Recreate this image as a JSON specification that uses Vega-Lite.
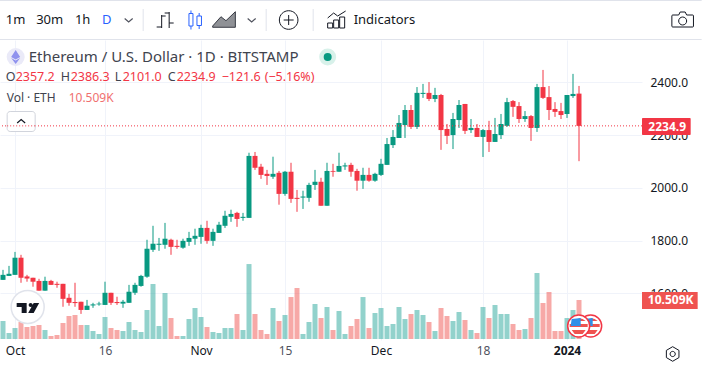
{"$schema":"https://vega.github.io/schema/vega-lite/v6.json","autosize":{"type":"none"},"width":642,"height":300,"padding":{"left":0,"top":40,"right":60,"bottom":25},"background":"white","config":{"view":{"stroke":null},"text":{"font":"Noto Sans"}},
"data":{"values":[{}]},
"datasets":{"eth":[
{"d":"2023-09-29","o":1651,"h":1689,"l":1651,"c":1670,"v":4.85},{"d":"2023-09-30","o":1666,"h":1704,"l":1666,"c":1674,"v":1.62},
{"d":"2023-10-01","o":1670,"h":1757,"l":1670,"c":1735,"v":2.96},{"d":"2023-10-02","o":1735,"h":1746,"l":1640,"c":1659,"v":4.58},{"d":"2023-10-03","o":1664,"h":1670,"l":1644,"c":1656,"v":3.23},{"d":"2023-10-04","o":1659,"h":1659,"l":1625,"c":1644,"v":3.5},{"d":"2023-10-05","o":1647,"h":1655,"l":1610,"c":1610,"v":3.77},{"d":"2023-10-06","o":1610,"h":1663,"l":1610,"c":1647,"v":2.42},{"d":"2023-10-07","o":1647,"h":1651,"l":1632,"c":1632,"v":0.81},{"d":"2023-10-08","o":1636,"h":1644,"l":1621,"c":1632,"v":1.08},{"d":"2023-10-09","o":1636,"h":1636,"l":1549,"c":1579,"v":4.31},{"d":"2023-10-10","o":1583,"h":1598,"l":1553,"c":1564,"v":6.2},{"d":"2023-10-11","o":1567,"h":1640,"l":1549,"c":1563,"v":6.47},{"d":"2023-10-12","o":1568,"h":1568,"l":1522,"c":1537,"v":3.77},{"d":"2023-10-13","o":1537,"h":1575,"l":1537,"c":1553,"v":3.77},{"d":"2023-10-14","o":1554,"h":1564,"l":1545,"c":1558,"v":2.16},{"d":"2023-10-15","o":1558,"h":1568,"l":1553,"c":1561,"v":1.35},{"d":"2023-10-16","o":1556,"h":1644,"l":1556,"c":1602,"v":5.93},{"d":"2023-10-17","o":1602,"h":1602,"l":1556,"c":1564,"v":2.96},{"d":"2023-10-18","o":1567,"h":1587,"l":1556,"c":1563,"v":2.42},{"d":"2023-10-19","o":1561,"h":1575,"l":1545,"c":1568,"v":2.16},{"d":"2023-10-20","o":1564,"h":1632,"l":1564,"c":1606,"v":4.58},{"d":"2023-10-21","o":1602,"h":1640,"l":1594,"c":1632,"v":2.42},{"d":"2023-10-22","o":1628,"h":1670,"l":1625,"c":1666,"v":1.89},{"d":"2023-10-23","o":1663,"h":1803,"l":1659,"c":1769,"v":7.81},{"d":"2023-10-24","o":1765,"h":1856,"l":1757,"c":1788,"v":14.82},{"d":"2023-10-25","o":1784,"h":1810,"l":1761,"c":1788,"v":3.5},{"d":"2023-10-26","o":1784,"h":1867,"l":1769,"c":1807,"v":12.39},{"d":"2023-10-27","o":1803,"h":1807,"l":1746,"c":1776,"v":5.66},{"d":"2023-10-28","o":1780,"h":1803,"l":1769,"c":1776,"v":0.81},{"d":"2023-10-29","o":1773,"h":1807,"l":1769,"c":1799,"v":0.81},{"d":"2023-10-30","o":1795,"h":1833,"l":1780,"c":1810,"v":5.39},{"d":"2023-10-31","o":1807,"h":1845,"l":1784,"c":1818,"v":8.35},
{"d":"2023-11-01","o":1814,"h":1860,"l":1788,"c":1848,"v":5.93},{"d":"2023-11-02","o":1848,"h":1875,"l":1788,"c":1799,"v":3.23},{"d":"2023-11-03","o":1799,"h":1845,"l":1780,"c":1833,"v":1.89},{"d":"2023-11-04","o":1829,"h":1871,"l":1829,"c":1860,"v":1.62},{"d":"2023-11-05","o":1856,"h":1913,"l":1848,"c":1894,"v":2.96},{"d":"2023-11-06","o":1890,"h":1917,"l":1871,"c":1901,"v":2.96},{"d":"2023-11-07","o":1905,"h":1909,"l":1852,"c":1882,"v":6.74},{"d":"2023-11-08","o":1886,"h":1905,"l":1875,"c":1890,"v":2.42},{"d":"2023-11-09","o":1886,"h":2133,"l":1886,"c":2121,"v":20.2},{"d":"2023-11-10","o":2121,"h":2136,"l":2068,"c":2076,"v":6.74},{"d":"2023-11-11","o":2080,"h":2091,"l":2034,"c":2049,"v":2.42},{"d":"2023-11-12","o":2053,"h":2068,"l":2011,"c":2045,"v":1.35},{"d":"2023-11-13","o":2042,"h":2118,"l":2034,"c":2053,"v":8.35},{"d":"2023-11-14","o":2057,"h":2064,"l":1936,"c":1977,"v":4.85},{"d":"2023-11-15","o":1977,"h":2064,"l":1970,"c":2061,"v":6.47},{"d":"2023-11-16","o":2061,"h":2095,"l":1943,"c":1958,"v":11.31},{"d":"2023-11-17","o":1962,"h":1992,"l":1909,"c":1958,"v":13.74},{"d":"2023-11-18","o":1963,"h":1989,"l":1920,"c":1967,"v":1.35},{"d":"2023-11-19","o":1962,"h":2019,"l":1947,"c":2011,"v":4.58},{"d":"2023-11-20","o":2011,"h":2068,"l":1992,"c":2023,"v":9.43},{"d":"2023-11-21","o":2023,"h":2038,"l":1932,"c":1932,"v":5.66},{"d":"2023-11-22","o":1932,"h":2095,"l":1932,"c":2064,"v":8.62},{"d":"2023-11-23","o":2064,"h":2091,"l":2042,"c":2061,"v":2.42},{"d":"2023-11-24","o":2061,"h":2133,"l":2061,"c":2083,"v":7.54},{"d":"2023-11-25","o":2081,"h":2095,"l":2068,"c":2085,"v":1.35},{"d":"2023-11-26","o":2087,"h":2095,"l":2042,"c":2061,"v":3.5},{"d":"2023-11-27","o":2064,"h":2072,"l":1989,"c":2027,"v":5.39},{"d":"2023-11-28","o":2027,"h":2076,"l":1996,"c":2049,"v":11.31},{"d":"2023-11-29","o":2049,"h":2076,"l":2023,"c":2027,"v":2.96},{"d":"2023-11-30","o":2027,"h":2057,"l":2023,"c":2053,"v":7.0},
{"d":"2023-12-01","o":2049,"h":2110,"l":2045,"c":2091,"v":8.35},{"d":"2023-12-02","o":2087,"h":2189,"l":2087,"c":2166,"v":3.5},{"d":"2023-12-03","o":2162,"h":2219,"l":2151,"c":2193,"v":4.04},{"d":"2023-12-04","o":2189,"h":2276,"l":2189,"c":2246,"v":8.62},{"d":"2023-12-05","o":2238,"h":2314,"l":2189,"c":2295,"v":5.39},{"d":"2023-12-06","o":2295,"h":2314,"l":2223,"c":2231,"v":6.74},{"d":"2023-12-07","o":2231,"h":2382,"l":2223,"c":2360,"v":7.81},{"d":"2023-12-08","o":2356,"h":2394,"l":2341,"c":2360,"v":6.47},{"d":"2023-12-09","o":2360,"h":2401,"l":2329,"c":2337,"v":4.58},{"d":"2023-12-10","o":2337,"h":2379,"l":2325,"c":2352,"v":2.16},{"d":"2023-12-11","o":2352,"h":2356,"l":2144,"c":2219,"v":8.35},{"d":"2023-12-12","o":2223,"h":2242,"l":2166,"c":2197,"v":6.2},{"d":"2023-12-13","o":2200,"h":2284,"l":2147,"c":2261,"v":4.85},{"d":"2023-12-14","o":2257,"h":2333,"l":2227,"c":2314,"v":7.27},{"d":"2023-12-15","o":2318,"h":2318,"l":2204,"c":2216,"v":5.12},{"d":"2023-12-16","o":2219,"h":2261,"l":2208,"c":2227,"v":2.42},{"d":"2023-12-17","o":2227,"h":2242,"l":2193,"c":2193,"v":1.62},{"d":"2023-12-18","o":2193,"h":2223,"l":2117,"c":2219,"v":8.62},{"d":"2023-12-19","o":2219,"h":2254,"l":2136,"c":2174,"v":5.66},{"d":"2023-12-20","o":2174,"h":2265,"l":2174,"c":2204,"v":9.16},{"d":"2023-12-21","o":2200,"h":2280,"l":2185,"c":2242,"v":6.74},{"d":"2023-12-22","o":2235,"h":2341,"l":2231,"c":2325,"v":6.74},{"d":"2023-12-23","o":2329,"h":2333,"l":2269,"c":2307,"v":4.04},{"d":"2023-12-24","o":2310,"h":2325,"l":2246,"c":2261,"v":2.42},{"d":"2023-12-25","o":2261,"h":2291,"l":2250,"c":2272,"v":2.69},{"d":"2023-12-26","o":2272,"h":2276,"l":2178,"c":2227,"v":5.66},{"d":"2023-12-27","o":2227,"h":2394,"l":2212,"c":2382,"v":17.78},{"d":"2023-12-28","o":2382,"h":2447,"l":2337,"c":2341,"v":9.7},{"d":"2023-12-29","o":2344,"h":2386,"l":2257,"c":2295,"v":12.66},{"d":"2023-12-30","o":2299,"h":2325,"l":2269,"c":2288,"v":2.16},{"d":"2023-12-31","o":2291,"h":2322,"l":2261,"c":2276,"v":2.16},
{"d":"2024-01-01","o":2280,"h":2352,"l":2265,"c":2352,"v":5.66},{"d":"2024-01-02","o":2348,"h":2432,"l":2341,"c":2356,"v":7.81},{"d":"2024-01-03","o":2357.2,"h":2386.3,"l":2101,"c":2234.9,"v":10.509}
]},
"resolve":{"scale":{"y":"independent"},"axis":{"x":"independent"}},
"layer":[
{"data":{"name":"eth"},"mark":{"type":"bar","size":5,"opacity":0.5},"encoding":{
"x":{"field":"d","type":"temporal","scale":{"domain":[1695902400000,1705147200000],"nice":false,"padding":0},"axis":{"title":null,"orient":"bottom","values":[1696118400000,1697414400000,1698796800000,1700006400000,1701388800000,1702857600000,1704067200000],"labelExpr":"utcdate(datum.value)==1 ? (utcmonth(datum.value)==0 ? '2024' : utcFormat(datum.value,'%b')) : utcFormat(datum.value,'%-d')","domain":false,"ticks":false,"grid":true,"gridColor":"#f0f3fa","labelFont":"Noto Sans","labelFontSize":12,"labelPadding":5,"labelOverlap":false,"labelFlush":false,"labelAngle":0,"labelColor":{"condition":{"test":"utcdate(datum.value)==1","value":"#131722"},"value":"#50535e"},"labelFontWeight":{"condition":{"test":"utcmonth(datum.value)==0","value":"bold"},"value":"normal"}}},
"y":{"field":"v","type":"quantitative","stack":null,"axis":null,"scale":{"domain":[-0.27,80.58],"zero":false,"nice":false,"padding":0}},"color":{"condition":{"test":"datum.c>=datum.o","value":"#26a69a"},"value":"#ef5350"}}},
{"data":{"name":"eth"},"mark":{"type":"rule","strokeWidth":1},"encoding":{
"x":{"field":"d","type":"temporal","axis":null},
"y":{"field":"l","type":"quantitative","scale":{"domain":[1423,2560.5],"zero":false,"nice":false,"padding":0},"axis":{"title":null,"orient":"right","values":[1600,1800,2000,2200,2400],"format":".1f","domain":false,"ticks":false,"grid":true,"gridColor":"#f0f3fa","labelFont":"Noto Sans","labelFontSize":12,"labelPadding":8,"labelColor":"#131722"}},
"y2":{"field":"h"},"stroke":{"condition":{"test":"datum.c>=datum.o","value":"#089981"},"value":"#f23645"}}},
{"data":{"name":"eth"},"mark":{"type":"bar","size":5},"encoding":{"x":{"field":"d","type":"temporal","axis":null},"y":{"field":"o","type":"quantitative","scale":{"domain":[1423,2560.5],"zero":false,"nice":false,"padding":0},"axis":null},"y2":{"field":"c"},"color":{"condition":{"test":"datum.c>=datum.o","value":"#089981"},"value":"#f23645"}}},
{"mark":{"type":"rule","stroke":"#f23645","strokeWidth":1,"strokeDash":[1,2]},"encoding":{"y":{"datum":2234.9,"type":"quantitative","axis":null,"scale":{"domain":[1423,2560.5],"zero":false,"nice":false,"padding":0}}}},
{"mark":{"type":"rule","stroke":"#e0e3eb","strokeWidth":1},"encoding":{"x":{"datum":1695897600000,"type":"temporal","axis":null},"x2":{"datum":1706006400000},"y":{"datum":2710.3,"type":"quantitative","axis":null,"scale":{"domain":[1423,2560.5],"zero":false,"nice":false,"padding":0}}}},
{"mark":{"type":"rule","stroke":"#e0e3eb","strokeWidth":1},"encoding":{"x":{"datum":1695897600000,"type":"temporal","axis":null},"x2":{"datum":1706006400000},"y":{"datum":2562.4,"type":"quantitative","axis":null,"scale":{"domain":[1423,2560.5],"zero":false,"nice":false,"padding":0}}}},
{"mark":{"type":"rule","stroke":"#e0e3eb","strokeWidth":1},"encoding":{"x":{"datum":1697964000000,"type":"temporal","axis":null},"y":{"datum":2678,"type":"quantitative","axis":null,"scale":{"domain":[1423,2560.5],"zero":false,"nice":false,"padding":0}},"y2":{"datum":2594.6}}},
{"mark":{"type":"rule","stroke":"#e0e3eb","strokeWidth":1},"encoding":{"x":{"datum":1699735200000,"type":"temporal","axis":null},"y":{"datum":2678,"type":"quantitative","axis":null,"scale":{"domain":[1423,2560.5],"zero":false,"nice":false,"padding":0}},"y2":{"datum":2594.6}}},
{"mark":{"type":"rule","stroke":"#e0e3eb","strokeWidth":1},"encoding":{"x":{"datum":1700412000000,"type":"temporal","axis":null},"y":{"datum":2678,"type":"quantitative","axis":null,"scale":{"domain":[1423,2560.5],"zero":false,"nice":false,"padding":0}},"y2":{"datum":2594.6}}},
{"mark":{"type":"text","text":"1m","fontSize":13,"color":"#131722","align":"center","baseline":"middle"},"encoding":{"x":{"datum":1696128000000,"type":"temporal","axis":null},"y":{"datum":2636.3,"type":"quantitative","axis":null,"scale":{"domain":[1423,2560.5],"zero":false,"nice":false,"padding":0}}}},
{"mark":{"type":"text","text":"30m","fontSize":13,"color":"#131722","align":"center","baseline":"middle"},"encoding":{"x":{"datum":1696617600000,"type":"temporal","axis":null},"y":{"datum":2636.3,"type":"quantitative","axis":null,"scale":{"domain":[1423,2560.5],"zero":false,"nice":false,"padding":0}}}},
{"mark":{"type":"text","text":"1h","fontSize":13,"color":"#131722","align":"center","baseline":"middle"},"encoding":{"x":{"datum":1697092800000,"type":"temporal","axis":null},"y":{"datum":2636.3,"type":"quantitative","axis":null,"scale":{"domain":[1423,2560.5],"zero":false,"nice":false,"padding":0}}}},
{"mark":{"type":"text","text":"D","fontSize":13,"color":"#2962ff","align":"center","baseline":"middle"},"encoding":{"x":{"datum":1697438400000,"type":"temporal","axis":null},"y":{"datum":2636.3,"type":"quantitative","axis":null,"scale":{"domain":[1423,2560.5],"zero":false,"nice":false,"padding":0}}}},
{"mark":{"type":"point","shape":"M-4,-1.5L0,2L4,-1.5","size":4,"filled":false,"opacity":1,"stroke":"#50535e","strokeWidth":1.2},"encoding":{"x":{"datum":1697755200000,"type":"temporal","axis":null},"y":{"datum":2636.3,"type":"quantitative","axis":null,"scale":{"domain":[1423,2560.5],"zero":false,"nice":false,"padding":0}}}},
{"mark":{"type":"point","shape":"M-4,-5L-4,8M-9,7L-4,7M-4,-4L0,-4M3.5,-8L3.5,8M-1,-7L3.5,-7M3.5,3L8,3","size":4,"filled":false,"opacity":1,"stroke":"#131722","strokeWidth":1},"encoding":{"x":{"datum":1698288000000,"type":"temporal","axis":null},"y":{"datum":2636.3,"type":"quantitative","axis":null,"scale":{"domain":[1423,2560.5],"zero":false,"nice":false,"padding":0}}}},
{"mark":{"type":"point","shape":"M-5.7,-6.5L-1.7,-6.5L-1.7,6L-5.7,6ZM-3.7,-9.5L-3.7,-6.5M-3.7,6L-3.7,9.5M2.3,-4L6.8,-4L6.8,5.5L2.3,5.5ZM4.5,-7L4.5,-4M4.5,5.5L4.5,9","size":4,"filled":false,"opacity":1,"stroke":"#2962ff","strokeWidth":1},"encoding":{"x":{"datum":1698705600000,"type":"temporal","axis":null},"y":{"datum":2636.3,"type":"quantitative","axis":null,"scale":{"domain":[1423,2560.5],"zero":false,"nice":false,"padding":0}}}},
{"mark":{"type":"point","shape":"M-11,6L-2.7,-3.3L2.3,0.7L11.7,-8.3L11.7,7.3L-11,7.3Z","size":4,"filled":true,"opacity":1,"fill":"#8f9196","stroke":"#131722","strokeWidth":0.8},"encoding":{"x":{"datum":1699123200000,"type":"temporal","axis":null},"y":{"datum":2636.3,"type":"quantitative","axis":null,"scale":{"domain":[1423,2560.5],"zero":false,"nice":false,"padding":0}}}},
{"mark":{"type":"point","shape":"M-4,-1.5L0,2L4,-1.5","size":4,"filled":false,"opacity":1,"stroke":"#50535e","strokeWidth":1.2},"encoding":{"x":{"datum":1699526400000,"type":"temporal","axis":null},"y":{"datum":2636.3,"type":"quantitative","axis":null,"scale":{"domain":[1423,2560.5],"zero":false,"nice":false,"padding":0}}}},
{"mark":{"type":"point","shape":"M-9.3,0A9.3,9.3,0,1,1,9.3,0A9.3,9.3,0,1,1,-9.3,0ZM-5,0L5,0M0,-5L0,5","size":4,"filled":false,"opacity":1,"stroke":"#131722","strokeWidth":1},"encoding":{"x":{"datum":1700059200000,"type":"temporal","axis":null},"y":{"datum":2636.3,"type":"quantitative","axis":null,"scale":{"domain":[1423,2560.5],"zero":false,"nice":false,"padding":0}}}},
{"mark":{"type":"point","shape":"M-9,8L-9,3L-4,3L-4,8ZM-3,8L-3,0L2,0L2,8ZM3,8L3,-3L8,-3L8,8ZM-9,-2L-3,-7L1,-4L9,-9","size":4,"filled":false,"opacity":1,"stroke":"#131722","strokeWidth":1},"encoding":{"x":{"datum":1700750400000,"type":"temporal","axis":null},"y":{"datum":2636.3,"type":"quantitative","axis":null,"scale":{"domain":[1423,2560.5],"zero":false,"nice":false,"padding":0}}}},
{"mark":{"type":"text","text":"Indicators","fontSize":13,"color":"#131722","align":"left","baseline":"middle"},"encoding":{"x":{"datum":1700995200000,"type":"temporal","axis":null},"y":{"datum":2636.3,"type":"quantitative","axis":null,"scale":{"domain":[1423,2560.5],"zero":false,"nice":false,"padding":0}}}},
{"mark":{"type":"point","shape":"M-10,-5L-4,-5L-2.5,-8L2.5,-8L4,-5L10,-5Q10.8,-5,10.8,-4L10.8,6Q10.8,7,10,7L-10,7Q-10.8,7,-10.8,6L-10.8,-4Q-10.8,-5,-10,-5ZM-4,1A4,4,0,1,1,4,1A4,4,0,1,1,-4,1Z","size":4,"filled":false,"opacity":1,"stroke":"#131722","strokeWidth":1},"encoding":{"x":{"datum":1705732800000,"type":"temporal","axis":null},"y":{"datum":2636.3,"type":"quantitative","axis":null,"scale":{"domain":[1423,2560.5],"zero":false,"nice":false,"padding":0}}}},
{"mark":{"type":"point","shape":"circle","size":324,"filled":true,"opacity":1,"fill":"#eaeaf8"},"encoding":{"x":{"datum":1696128000000,"type":"temporal","axis":null},"y":{"datum":2496,"type":"quantitative","axis":null,"scale":{"domain":[1423,2560.5],"zero":false,"nice":false,"padding":0}}}},
{"mark":{"type":"point","shape":"M0,-7L4.5,0L0,2.5L-4.5,0ZM0,3.5L4.5,1L0,7L-4.5,1Z","size":4,"filled":true,"opacity":1,"fill":"#8f92ee"},"encoding":{"x":{"datum":1696128000000,"type":"temporal","axis":null},"y":{"datum":2496,"type":"quantitative","axis":null,"scale":{"domain":[1423,2560.5],"zero":false,"nice":false,"padding":0}}}},
{"mark":{"type":"text","text":"Ethereum / U.S. Dollar · 1D · BITSTAMP","fontSize":15,"color":"#40434e","align":"left","baseline":"middle"},"encoding":{"x":{"datum":1696315200000,"type":"temporal","axis":null},"y":{"datum":2496,"type":"quantitative","axis":null,"scale":{"domain":[1423,2560.5],"zero":false,"nice":false,"padding":0}}}},
{"mark":{"type":"point","shape":"circle","size":289,"filled":true,"opacity":1,"fill":"#d8f1ea"},"encoding":{"x":{"datum":1700620800000,"type":"temporal","axis":null},"y":{"datum":2496,"type":"quantitative","axis":null,"scale":{"domain":[1423,2560.5],"zero":false,"nice":false,"padding":0}}}},
{"mark":{"type":"point","shape":"circle","size":64,"filled":true,"opacity":1,"fill":"#089981"},"encoding":{"x":{"datum":1700620800000,"type":"temporal","axis":null},"y":{"datum":2496,"type":"quantitative","axis":null,"scale":{"domain":[1423,2560.5],"zero":false,"nice":false,"padding":0}}}},
{"mark":{"type":"text","text":"O","fontSize":12.5,"color":"#40434e","align":"left","baseline":"middle"},"encoding":{"x":{"datum":1695984000000,"type":"temporal","axis":null},"y":{"datum":2422.1,"type":"quantitative","axis":null,"scale":{"domain":[1423,2560.5],"zero":false,"nice":false,"padding":0}}}},
{"mark":{"type":"text","text":"2357.2","fontSize":12.5,"color":"#f23645","align":"left","baseline":"middle"},"encoding":{"x":{"datum":1696128000000,"type":"temporal","axis":null},"y":{"datum":2422.1,"type":"quantitative","axis":null,"scale":{"domain":[1423,2560.5],"zero":false,"nice":false,"padding":0}}}},
{"mark":{"type":"text","text":"H","fontSize":12.5,"color":"#40434e","align":"left","baseline":"middle"},"encoding":{"x":{"datum":1696776000000,"type":"temporal","axis":null},"y":{"datum":2422.1,"type":"quantitative","axis":null,"scale":{"domain":[1423,2560.5],"zero":false,"nice":false,"padding":0}}}},
{"mark":{"type":"text","text":"2386.3","fontSize":12.5,"color":"#f23645","align":"left","baseline":"middle"},"encoding":{"x":{"datum":1696920000000,"type":"temporal","axis":null},"y":{"datum":2422.1,"type":"quantitative","axis":null,"scale":{"domain":[1423,2560.5],"zero":false,"nice":false,"padding":0}}}},
{"mark":{"type":"text","text":"L","fontSize":12.5,"color":"#40434e","align":"left","baseline":"middle"},"encoding":{"x":{"datum":1697553600000,"type":"temporal","axis":null},"y":{"datum":2422.1,"type":"quantitative","axis":null,"scale":{"domain":[1423,2560.5],"zero":false,"nice":false,"padding":0}}}},
{"mark":{"type":"text","text":"2101.0","fontSize":12.5,"color":"#f23645","align":"left","baseline":"middle"},"encoding":{"x":{"datum":1697668800000,"type":"temporal","axis":null},"y":{"datum":2422.1,"type":"quantitative","axis":null,"scale":{"domain":[1423,2560.5],"zero":false,"nice":false,"padding":0}}}},
{"mark":{"type":"text","text":"C","fontSize":12.5,"color":"#40434e","align":"left","baseline":"middle"},"encoding":{"x":{"datum":1698316800000,"type":"temporal","axis":null},"y":{"datum":2422.1,"type":"quantitative","axis":null,"scale":{"domain":[1423,2560.5],"zero":false,"nice":false,"padding":0}}}},
{"mark":{"type":"text","text":"2234.9","fontSize":12.5,"color":"#f23645","align":"left","baseline":"middle"},"encoding":{"x":{"datum":1698446400000,"type":"temporal","axis":null},"y":{"datum":2422.1,"type":"quantitative","axis":null,"scale":{"domain":[1423,2560.5],"zero":false,"nice":false,"padding":0}}}},
{"mark":{"type":"text","text":"−121.6","fontSize":12.5,"color":"#f23645","align":"left","baseline":"middle"},"encoding":{"x":{"datum":1699094400000,"type":"temporal","axis":null},"y":{"datum":2422.1,"type":"quantitative","axis":null,"scale":{"domain":[1423,2560.5],"zero":false,"nice":false,"padding":0}}}},
{"mark":{"type":"text","text":"(−5.16%)","fontSize":12.5,"color":"#f23645","align":"left","baseline":"middle"},"encoding":{"x":{"datum":1699713600000,"type":"temporal","axis":null},"y":{"datum":2422.1,"type":"quantitative","axis":null,"scale":{"domain":[1423,2560.5],"zero":false,"nice":false,"padding":0}}}},
{"mark":{"type":"text","text":"Vol · ETH","fontSize":12,"color":"#40434e","align":"left","baseline":"middle"},"encoding":{"x":{"datum":1695998400000,"type":"temporal","axis":null},"y":{"datum":2340.6,"type":"quantitative","axis":null,"scale":{"domain":[1423,2560.5],"zero":false,"nice":false,"padding":0}}}},
{"mark":{"type":"text","text":"10.509K","fontSize":12,"color":"#f0706f","align":"left","baseline":"middle"},"encoding":{"x":{"datum":1696891200000,"type":"temporal","axis":null},"y":{"datum":2340.6,"type":"quantitative","axis":null,"scale":{"domain":[1423,2560.5],"zero":false,"nice":false,"padding":0}}}},
{"mark":{"type":"rect","fill":"white","stroke":"#d1d4dc","strokeWidth":1,"cornerRadius":3},"encoding":{"x":{"datum":1696005600000,"type":"temporal","axis":null},"x2":{"datum":1696408800000},"y":{"datum":2289.4,"type":"quantitative","axis":null,"scale":{"domain":[1423,2560.5],"zero":false,"nice":false,"padding":0}},"y2":{"datum":2213.6}}},
{"mark":{"type":"rule","stroke":"#f23645","strokeWidth":1,"strokeDash":[1,2]},"encoding":{"x":{"datum":1696005600000,"type":"temporal","axis":null},"x2":{"datum":1696408800000},"y":{"datum":2234.9,"type":"quantitative","axis":null,"scale":{"domain":[1423,2560.5],"zero":false,"nice":false,"padding":0}}}},
{"mark":{"type":"point","shape":"M-4,1.5L0,-2L4,1.5","size":4,"filled":false,"opacity":1,"stroke":"#131722","strokeWidth":1.2},"encoding":{"x":{"datum":1696207200000,"type":"temporal","axis":null},"y":{"datum":2251.5,"type":"quantitative","axis":null,"scale":{"domain":[1423,2560.5],"zero":false,"nice":false,"padding":0}}}},
{"mark":{"type":"rect","fill":"#f23645","cornerRadius":1},"encoding":{"x":{"datum":1705147200000,"type":"temporal","axis":null},"x2":{"datum":1705848000000},"y":{"datum":2264.8,"type":"quantitative","axis":null,"scale":{"domain":[1423,2560.5],"zero":false,"nice":false,"padding":0}},"y2":{"datum":2200.3}}},
{"mark":{"type":"text","text":"2234.9","fontSize":12,"fontWeight":"bold","color":"white","align":"center","baseline":"middle"},"encoding":{"x":{"datum":1705509600000,"type":"temporal","axis":null},"y":{"datum":2232.5,"type":"quantitative","axis":null,"scale":{"domain":[1423,2560.5],"zero":false,"nice":false,"padding":0}}}},
{"mark":{"type":"rect","fill":"#ef5350"},"encoding":{"x":{"datum":1705147200000,"type":"temporal","axis":null},"x2":{"datum":1705948800000},"y":{"datum":1605,"type":"quantitative","axis":null,"scale":{"domain":[1423,2560.5],"zero":false,"nice":false,"padding":0}},"y2":{"datum":1540.6}}},
{"mark":{"type":"text","text":"10.509K","fontSize":12,"fontWeight":"bold","color":"white","align":"center","baseline":"middle"},"encoding":{"x":{"datum":1705560000000,"type":"temporal","axis":null},"y":{"datum":1572.8,"type":"quantitative","axis":null,"scale":{"domain":[1423,2560.5],"zero":false,"nice":false,"padding":0}}}},
{"mark":{"type":"point","shape":"M0,-7.3L6.3,-3.6L6.3,3.6L0,7.3L-6.3,3.6L-6.3,-3.6ZM-2.6,0A2.6,2.6,0,1,1,2.6,0A2.6,2.6,0,1,1,-2.6,0Z","size":4,"filled":false,"opacity":1,"stroke":"#131722","strokeWidth":1},"encoding":{"x":{"datum":1705588800000,"type":"temporal","axis":null},"y":{"datum":1370,"type":"quantitative","axis":null,"scale":{"domain":[1423,2560.5],"zero":false,"nice":false,"padding":0}}}},
{"mark":{"type":"point","shape":"circle","size":1089,"filled":true,"opacity":1,"fill":"white","stroke":"#e0e3eb","strokeWidth":1.5},"encoding":{"x":{"datum":1696300800000,"type":"temporal","axis":null},"y":{"datum":1548.2,"type":"quantitative","axis":null,"scale":{"domain":[1423,2560.5],"zero":false,"nice":false,"padding":0}}}},
{"mark":{"type":"point","shape":"M-11,-4L-1,-4L-1,6L-6,6L-6,0L-11,0ZM3,-4A2,2,0,1,1,3,0A2,2,0,1,1,3,-4ZM6,-4L11.5,-4L6,6L0.5,6Z","size":4,"filled":true,"opacity":1,"fill":"#131722"},"encoding":{"x":{"datum":1696300800000,"type":"temporal","axis":null},"y":{"datum":1548.2,"type":"quantitative","axis":null,"scale":{"domain":[1423,2560.5],"zero":false,"nice":false,"padding":0}}}},
{"mark":{"type":"point","shape":"circle","size":484,"filled":true,"opacity":1,"fill":"white","stroke":"#f23645","strokeWidth":1.5},"encoding":{"x":{"datum":1704408000000,"type":"temporal","axis":null},"y":{"datum":1476.1,"type":"quantitative","axis":null,"scale":{"domain":[1423,2560.5],"zero":false,"nice":false,"padding":0}}}},
{"mark":{"type":"point","shape":"M-9,-2L9,-2L9,1L-9,1ZM-7,4L7,4L4,8L-4,8ZM0,-8L4,-7L7,-5L0,-5Z","size":4,"filled":true,"opacity":1,"fill":"#ef5350"},"encoding":{"x":{"datum":1704408000000,"type":"temporal","axis":null},"y":{"datum":1476.1,"type":"quantitative","axis":null,"scale":{"domain":[1423,2560.5],"zero":false,"nice":false,"padding":0}}}},
{"mark":{"type":"point","shape":"M-7,-7L2,-8L2,0L-8,0Z","size":4,"filled":true,"opacity":1,"fill":"#2f8fe8"},"encoding":{"x":{"datum":1704408000000,"type":"temporal","axis":null},"y":{"datum":1476.1,"type":"quantitative","axis":null,"scale":{"domain":[1423,2560.5],"zero":false,"nice":false,"padding":0}}}},
{"mark":{"type":"point","shape":"circle","size":484,"filled":true,"opacity":1,"fill":"white","stroke":"#f23645","strokeWidth":1.5},"encoding":{"x":{"datum":1704235200000,"type":"temporal","axis":null},"y":{"datum":1476.1,"type":"quantitative","axis":null,"scale":{"domain":[1423,2560.5],"zero":false,"nice":false,"padding":0}}}},
{"mark":{"type":"point","shape":"M-9,-2L9,-2L9,1L-9,1ZM-7,4L7,4L4,8L-4,8ZM0,-8L4,-7L7,-5L0,-5Z","size":4,"filled":true,"opacity":1,"fill":"#ef5350"},"encoding":{"x":{"datum":1704235200000,"type":"temporal","axis":null},"y":{"datum":1476.1,"type":"quantitative","axis":null,"scale":{"domain":[1423,2560.5],"zero":false,"nice":false,"padding":0}}}},
{"mark":{"type":"point","shape":"M-7,-7L2,-8L2,0L-8,0Z","size":4,"filled":true,"opacity":1,"fill":"#2f8fe8"},"encoding":{"x":{"datum":1704235200000,"type":"temporal","axis":null},"y":{"datum":1476.1,"type":"quantitative","axis":null,"scale":{"domain":[1423,2560.5],"zero":false,"nice":false,"padding":0}}}}
]}
